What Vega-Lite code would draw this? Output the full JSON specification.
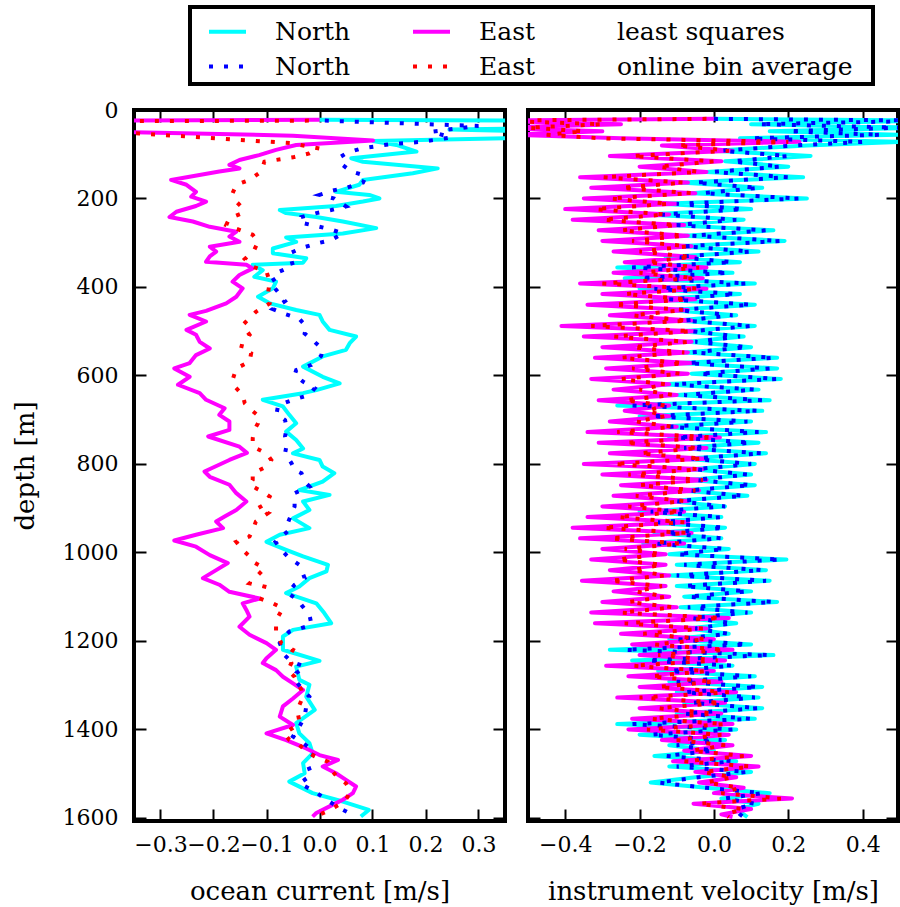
{
  "$schema": "https://vega.github.io/schema/vega-lite/v6.json",
  "background": "white",
  "padding": {"left": 10, "top": 5, "right": 1, "bottom": 2},
  "spacing": 23,
  "bounds": "flush",
  "config": {
    "font": "DejaVu Serif",
    "view": {"stroke": "black", "strokeWidth": 4},
    "axis": {"domain": false, "grid": false, "tickColor": "black", "tickWidth": 2, "tickSize": -12, "labelColor": "black", "labelFont": "DejaVu Serif", "labelFontSize": 22, "titleFont": "DejaVu Serif", "titleFontSize": 26, "titleFontWeight": "normal", "titleColor": "black", "labelFlush": false, "labelOverlap": false, "minExtent": 0}
  },
  "hconcat": [
    {
      "width": 371,
      "height": 711,
      "data": {"values": [
        {"s":"NL","d":22,"v":0},{"s":"NL","d":25,"v":0.6},{"s":"NL","d":40,"v":0.5},{"s":"NL","d":44,"v":0.245},{"s":"NL","d":50,"v":0.45},{"s":"NL","d":60,"v":0.5},{"s":"NL","d":70,"v":0.101},{"s":"NL","d":79,"v":0.145},{"s":"NL","d":94,"v":0.183},{"s":"NL","d":109,"v":0.06},{"s":"NL","d":117,"v":0.082},{"s":"NL","d":132,"v":0.223},{"s":"NL","d":143,"v":0.176},{"s":"NL","d":158,"v":0.082},{"s":"NL","d":169,"v":0.075},{"s":"NL","d":185,"v":0.031},{"s":"NL","d":192,"v":0.094},{"s":"NL","d":200,"v":0.113},{"s":"NL","d":207,"v":0.082},{"s":"NL","d":217,"v":0.031},{"s":"NL","d":226,"v":-0.075},{"s":"NL","d":233,"v":-0.063},{"s":"NL","d":242,"v":-0.006},{"s":"NL","d":252,"v":0.044},{"s":"NL","d":267,"v":0.107},{"s":"NL","d":279,"v":0.044},{"s":"NL","d":288,"v":-0.063},{"s":"NL","d":298,"v":-0.044},{"s":"NL","d":313,"v":-0.088},{"s":"NL","d":324,"v":-0.088},{"s":"NL","d":335,"v":-0.025},{"s":"NL","d":345,"v":-0.031},{"s":"NL","d":350,"v":-0.126},{"s":"NL","d":362,"v":-0.107},{"s":"NL","d":377,"v":-0.123},{"s":"NL","d":388,"v":-0.082},{"s":"NL","d":403,"v":-0.088},{"s":"NL","d":422,"v":-0.116},{"s":"NL","d":437,"v":-0.094},{"s":"NL","d":452,"v":-0.044},{"s":"NL","d":463,"v":0.0},{"s":"NL","d":478,"v":0.006},{"s":"NL","d":497,"v":0.019},{"s":"NL","d":512,"v":0.069},{"s":"NL","d":527,"v":0.057},{"s":"NL","d":542,"v":0.05},{"s":"NL","d":557,"v":0.006},{"s":"NL","d":580,"v":-0.031},{"s":"NL","d":603,"v":0.006},{"s":"NL","d":618,"v":0.038},{"s":"NL","d":633,"v":-0.006},{"s":"NL","d":640,"v":-0.031},{"s":"NL","d":655,"v":-0.107},{"s":"NL","d":670,"v":-0.069},{"s":"NL","d":689,"v":-0.057},{"s":"NL","d":708,"v":-0.044},{"s":"NL","d":727,"v":-0.063},{"s":"NL","d":746,"v":-0.044},{"s":"NL","d":765,"v":-0.031},{"s":"NL","d":776,"v":-0.05},{"s":"NL","d":791,"v":0.0},{"s":"NL","d":806,"v":0.006},{"s":"NL","d":821,"v":0.028},{"s":"NL","d":840,"v":0.006},{"s":"NL","d":859,"v":-0.038},{"s":"NL","d":870,"v":0.019},{"s":"NL","d":885,"v":-0.031},{"s":"NL","d":904,"v":-0.019},{"s":"NL","d":923,"v":-0.05},{"s":"NL","d":945,"v":-0.019},{"s":"NL","d":960,"v":-0.075},{"s":"NL","d":976,"v":-0.1},{"s":"NL","d":994,"v":-0.063},{"s":"NL","d":1009,"v":-0.031},{"s":"NL","d":1028,"v":0.016},{"s":"NL","d":1043,"v":0.013},{"s":"NL","d":1058,"v":-0.019},{"s":"NL","d":1077,"v":-0.038},{"s":"NL","d":1092,"v":-0.063},{"s":"NL","d":1115,"v":-0.006},{"s":"NL","d":1137,"v":0.009},{"s":"NL","d":1160,"v":0.022},{"s":"NL","d":1175,"v":-0.05},{"s":"NL","d":1190,"v":-0.069},{"s":"NL","d":1220,"v":-0.069},{"s":"NL","d":1245,"v":0.0},{"s":"NL","d":1258,"v":-0.044},{"s":"NL","d":1288,"v":-0.038},{"s":"NL","d":1299,"v":-0.019},{"s":"NL","d":1326,"v":-0.025},{"s":"NL","d":1356,"v":-0.009},{"s":"NL","d":1386,"v":-0.044},{"s":"NL","d":1409,"v":-0.038},{"s":"NL","d":1431,"v":-0.019},{"s":"NL","d":1454,"v":-0.013},{"s":"NL","d":1476,"v":-0.031},{"s":"NL","d":1499,"v":-0.028},{"s":"NL","d":1518,"v":-0.057},{"s":"NL","d":1544,"v":-0.013},{"s":"NL","d":1563,"v":0.044},{"s":"NL","d":1582,"v":0.093},{"s":"NL","d":1597,"v":0.078},
        {"s":"EL","d":22,"v":0},{"s":"EL","d":25,"v":-0.6},{"s":"EL","d":45,"v":-0.6},{"s":"EL","d":49,"v":-0.4},{"s":"EL","d":58,"v":-0.05},{"s":"EL","d":69,"v":0.101},{"s":"EL","d":79,"v":-0.044},{"s":"EL","d":90,"v":-0.082},{"s":"EL","d":102,"v":-0.114},{"s":"EL","d":113,"v":-0.151},{"s":"EL","d":124,"v":-0.17},{"s":"EL","d":132,"v":-0.151},{"s":"EL","d":139,"v":-0.189},{"s":"EL","d":158,"v":-0.28},{"s":"EL","d":169,"v":-0.251},{"s":"EL","d":185,"v":-0.233},{"s":"EL","d":196,"v":-0.242},{"s":"EL","d":207,"v":-0.214},{"s":"EL","d":217,"v":-0.233},{"s":"EL","d":230,"v":-0.27},{"s":"EL","d":242,"v":-0.283},{"s":"EL","d":252,"v":-0.239},{"s":"EL","d":264,"v":-0.207},{"s":"EL","d":275,"v":-0.157},{"s":"EL","d":286,"v":-0.17},{"s":"EL","d":298,"v":-0.151},{"s":"EL","d":309,"v":-0.207},{"s":"EL","d":320,"v":-0.195},{"s":"EL","d":331,"v":-0.207},{"s":"EL","d":343,"v":-0.214},{"s":"EL","d":350,"v":-0.138},{"s":"EL","d":358,"v":-0.126},{"s":"EL","d":373,"v":-0.151},{"s":"EL","d":388,"v":-0.164},{"s":"EL","d":403,"v":-0.145},{"s":"EL","d":422,"v":-0.157},{"s":"EL","d":437,"v":-0.176},{"s":"EL","d":454,"v":-0.214},{"s":"EL","d":463,"v":-0.245},{"s":"EL","d":478,"v":-0.214},{"s":"EL","d":497,"v":-0.251},{"s":"EL","d":508,"v":-0.233},{"s":"EL","d":524,"v":-0.226},{"s":"EL","d":539,"v":-0.207},{"s":"EL","d":554,"v":-0.233},{"s":"EL","d":572,"v":-0.245},{"s":"EL","d":584,"v":-0.274},{"s":"EL","d":603,"v":-0.245},{"s":"EL","d":621,"v":-0.267},{"s":"EL","d":640,"v":-0.226},{"s":"EL","d":655,"v":-0.214},{"s":"EL","d":674,"v":-0.179},{"s":"EL","d":689,"v":-0.189},{"s":"EL","d":704,"v":-0.17},{"s":"EL","d":723,"v":-0.17},{"s":"EL","d":738,"v":-0.21},{"s":"EL","d":761,"v":-0.151},{"s":"EL","d":775,"v":-0.137},{"s":"EL","d":791,"v":-0.17},{"s":"EL","d":817,"v":-0.217},{"s":"EL","d":829,"v":-0.207},{"s":"EL","d":847,"v":-0.17},{"s":"EL","d":866,"v":-0.157},{"s":"EL","d":885,"v":-0.138},{"s":"EL","d":904,"v":-0.157},{"s":"EL","d":919,"v":-0.179},{"s":"EL","d":930,"v":-0.195},{"s":"EL","d":945,"v":-0.182},{"s":"EL","d":960,"v":-0.233},{"s":"EL","d":973,"v":-0.274},{"s":"EL","d":987,"v":-0.233},{"s":"EL","d":1006,"v":-0.207},{"s":"EL","d":1024,"v":-0.173},{"s":"EL","d":1040,"v":-0.195},{"s":"EL","d":1058,"v":-0.22},{"s":"EL","d":1073,"v":-0.189},{"s":"EL","d":1089,"v":-0.17},{"s":"EL","d":1104,"v":-0.113},{"s":"EL","d":1115,"v":-0.145},{"s":"EL","d":1130,"v":-0.138},{"s":"EL","d":1145,"v":-0.132},{"s":"EL","d":1168,"v":-0.151},{"s":"EL","d":1186,"v":-0.132},{"s":"EL","d":1205,"v":-0.1},{"s":"EL","d":1220,"v":-0.082},{"s":"EL","d":1239,"v":-0.1},{"s":"EL","d":1250,"v":-0.107},{"s":"EL","d":1266,"v":-0.082},{"s":"EL","d":1281,"v":-0.069},{"s":"EL","d":1296,"v":-0.05},{"s":"EL","d":1311,"v":-0.031},{"s":"EL","d":1330,"v":-0.05},{"s":"EL","d":1348,"v":-0.069},{"s":"EL","d":1371,"v":-0.075},{"s":"EL","d":1390,"v":-0.05},{"s":"EL","d":1409,"v":-0.1},{"s":"EL","d":1424,"v":-0.063},{"s":"EL","d":1443,"v":-0.025},{"s":"EL","d":1458,"v":0.0},{"s":"EL","d":1469,"v":0.035},{"s":"EL","d":1484,"v":0.006},{"s":"EL","d":1499,"v":0.031},{"s":"EL","d":1514,"v":0.05},{"s":"EL","d":1529,"v":0.069},{"s":"EL","d":1544,"v":0.063},{"s":"EL","d":1559,"v":0.044},{"s":"EL","d":1574,"v":0.019},{"s":"EL","d":1589,"v":-0.006},{"s":"EL","d":1597,"v":-0.013},
        {"s":"NB","d":24,"v":0.01},{"s":"NB","d":36,"v":0.3},{"s":"NB","d":49,"v":0.211},{"s":"NB","d":62,"v":0.248},{"s":"NB","d":72,"v":0.192},{"s":"NB","d":77,"v":0.135},{"s":"NB","d":87,"v":0.079},{"s":"NB","d":96,"v":0.053},{"s":"NB","d":107,"v":0.038},{"s":"NB","d":122,"v":0.041},{"s":"NB","d":139,"v":0.06},{"s":"NB","d":149,"v":0.088},{"s":"NB","d":164,"v":0.082},{"s":"NB","d":175,"v":0.053},{"s":"NB","d":182,"v":0.025},{"s":"NB","d":192,"v":0.0},{"s":"NB","d":200,"v":0.028},{"s":"NB","d":218,"v":0.05},{"s":"NB","d":226,"v":0.022},{"s":"NB","d":233,"v":-0.006},{"s":"NB","d":242,"v":-0.035},{"s":"NB","d":254,"v":-0.038},{"s":"NB","d":261,"v":-0.01},{"s":"NB","d":269,"v":0.019},{"s":"NB","d":279,"v":0.044},{"s":"NB","d":294,"v":0.022},{"s":"NB","d":301,"v":-0.003},{"s":"NB","d":311,"v":-0.031},{"s":"NB","d":324,"v":-0.057},{"s":"NB","d":352,"v":-0.05},{"s":"NB","d":365,"v":-0.075},{"s":"NB","d":373,"v":-0.072},{"s":"NB","d":389,"v":-0.094},{"s":"NB","d":412,"v":-0.078},{"s":"NB","d":432,"v":-0.065},{"s":"NB","d":450,"v":-0.088},{"s":"NB","d":462,"v":-0.063},{"s":"NB","d":472,"v":-0.038},{"s":"NB","d":490,"v":-0.025},{"s":"NB","d":505,"v":-0.028},{"s":"NB","d":520,"v":-0.013},{"s":"NB","d":541,"v":0.006},{"s":"NB","d":556,"v":0.003},{"s":"NB","d":576,"v":-0.015},{"s":"NB","d":588,"v":-0.044},{"s":"NB","d":599,"v":-0.047},{"s":"NB","d":614,"v":-0.031},{"s":"NB","d":629,"v":-0.009},{"s":"NB","d":644,"v":-0.019},{"s":"NB","d":655,"v":-0.05},{"s":"NB","d":667,"v":-0.078},{"s":"NB","d":687,"v":-0.081},{"s":"NB","d":701,"v":-0.065},{"s":"NB","d":719,"v":-0.062},{"s":"NB","d":738,"v":-0.065},{"s":"NB","d":757,"v":-0.062},{"s":"NB","d":776,"v":-0.065},{"s":"NB","d":798,"v":-0.053},{"s":"NB","d":814,"v":-0.047},{"s":"NB","d":821,"v":-0.034},{"s":"NB","d":840,"v":-0.028},{"s":"NB","d":851,"v":-0.019},{"s":"NB","d":866,"v":-0.047},{"s":"NB","d":896,"v":-0.047},{"s":"NB","d":934,"v":-0.06},{"s":"NB","d":949,"v":-0.057},{"s":"NB","d":976,"v":-0.083},{"s":"NB","d":994,"v":-0.072},{"s":"NB","d":1013,"v":-0.057},{"s":"NB","d":1028,"v":-0.038},{"s":"NB","d":1058,"v":-0.028},{"s":"NB","d":1073,"v":-0.047},{"s":"NB","d":1092,"v":-0.06},{"s":"NB","d":1107,"v":-0.041},{"s":"NB","d":1119,"v":-0.034},{"s":"NB","d":1141,"v":-0.019},{"s":"NB","d":1164,"v":-0.015},{"s":"NB","d":1179,"v":-0.057},{"s":"NB","d":1190,"v":-0.066},{"s":"NB","d":1205,"v":-0.075},{"s":"NB","d":1232,"v":-0.066},{"s":"NB","d":1247,"v":-0.053},{"s":"NB","d":1258,"v":-0.028},{"s":"NB","d":1273,"v":-0.044},{"s":"NB","d":1288,"v":-0.047},{"s":"NB","d":1311,"v":-0.031},{"s":"NB","d":1326,"v":-0.019},{"s":"NB","d":1348,"v":-0.025},{"s":"NB","d":1371,"v":-0.028},{"s":"NB","d":1394,"v":-0.038},{"s":"NB","d":1416,"v":-0.05},{"s":"NB","d":1431,"v":-0.031},{"s":"NB","d":1450,"v":-0.009},{"s":"NB","d":1480,"v":-0.022},{"s":"NB","d":1503,"v":-0.015},{"s":"NB","d":1522,"v":-0.038},{"s":"NB","d":1540,"v":-0.009},{"s":"NB","d":1559,"v":0.013},{"s":"NB","d":1578,"v":0.038},{"s":"NB","d":1597,"v":0.069},
        {"s":"EB","d":24,"v":-0.02},{"s":"EB","d":26,"v":-0.6},{"s":"EB","d":44,"v":-0.6},{"s":"EB","d":53,"v":-0.34},{"s":"EB","d":75,"v":-0.053},{"s":"EB","d":87,"v":0.0},{"s":"EB","d":98,"v":-0.019},{"s":"EB","d":107,"v":-0.05},{"s":"EB","d":117,"v":-0.104},{"s":"EB","d":139,"v":-0.11},{"s":"EB","d":158,"v":-0.132},{"s":"EB","d":169,"v":-0.157},{"s":"EB","d":188,"v":-0.164},{"s":"EB","d":207,"v":-0.157},{"s":"EB","d":218,"v":-0.148},{"s":"EB","d":233,"v":-0.145},{"s":"EB","d":245,"v":-0.17},{"s":"EB","d":260,"v":-0.176},{"s":"EB","d":271,"v":-0.151},{"s":"EB","d":282,"v":-0.126},{"s":"EB","d":298,"v":-0.116},{"s":"EB","d":316,"v":-0.123},{"s":"EB","d":337,"v":-0.141},{"s":"EB","d":354,"v":-0.126},{"s":"EB","d":365,"v":-0.1},{"s":"EB","d":388,"v":-0.094},{"s":"EB","d":414,"v":-0.097},{"s":"EB","d":437,"v":-0.094},{"s":"EB","d":456,"v":-0.12},{"s":"EB","d":467,"v":-0.129},{"s":"EB","d":486,"v":-0.145},{"s":"EB","d":508,"v":-0.132},{"s":"EB","d":524,"v":-0.145},{"s":"EB","d":539,"v":-0.148},{"s":"EB","d":550,"v":-0.129},{"s":"EB","d":569,"v":-0.132},{"s":"EB","d":584,"v":-0.157},{"s":"EB","d":595,"v":-0.16},{"s":"EB","d":610,"v":-0.164},{"s":"EB","d":625,"v":-0.16},{"s":"EB","d":644,"v":-0.145},{"s":"EB","d":663,"v":-0.141},{"s":"EB","d":678,"v":-0.129},{"s":"EB","d":693,"v":-0.113},{"s":"EB","d":708,"v":-0.116},{"s":"EB","d":723,"v":-0.123},{"s":"EB","d":742,"v":-0.126},{"s":"EB","d":761,"v":-0.126},{"s":"EB","d":776,"v":-0.1},{"s":"EB","d":791,"v":-0.091},{"s":"EB","d":806,"v":-0.1},{"s":"EB","d":821,"v":-0.126},{"s":"EB","d":836,"v":-0.126},{"s":"EB","d":847,"v":-0.132},{"s":"EB","d":863,"v":-0.107},{"s":"EB","d":874,"v":-0.094},{"s":"EB","d":889,"v":-0.1},{"s":"EB","d":900,"v":-0.116},{"s":"EB","d":911,"v":-0.097},{"s":"EB","d":930,"v":-0.12},{"s":"EB","d":949,"v":-0.126},{"s":"EB","d":964,"v":-0.132},{"s":"EB","d":976,"v":-0.157},{"s":"EB","d":994,"v":-0.145},{"s":"EB","d":1009,"v":-0.132},{"s":"EB","d":1021,"v":-0.126},{"s":"EB","d":1036,"v":-0.104},{"s":"EB","d":1051,"v":-0.116},{"s":"EB","d":1070,"v":-0.132},{"s":"EB","d":1077,"v":-0.104},{"s":"EB","d":1092,"v":-0.107},{"s":"EB","d":1104,"v":-0.113},{"s":"EB","d":1115,"v":-0.088},{"s":"EB","d":1126,"v":-0.069},{"s":"EB","d":1145,"v":-0.078},{"s":"EB","d":1164,"v":-0.082},{"s":"EB","d":1179,"v":-0.082},{"s":"EB","d":1190,"v":-0.078},{"s":"EB","d":1205,"v":-0.072},{"s":"EB","d":1220,"v":-0.05},{"s":"EB","d":1235,"v":-0.057},{"s":"EB","d":1250,"v":-0.053},{"s":"EB","d":1266,"v":-0.06},{"s":"EB","d":1281,"v":-0.047},{"s":"EB","d":1296,"v":-0.041},{"s":"EB","d":1311,"v":-0.034},{"s":"EB","d":1326,"v":-0.031},{"s":"EB","d":1345,"v":-0.038},{"s":"EB","d":1363,"v":-0.041},{"s":"EB","d":1382,"v":-0.038},{"s":"EB","d":1394,"v":-0.047},{"s":"EB","d":1409,"v":-0.066},{"s":"EB","d":1424,"v":-0.057},{"s":"EB","d":1435,"v":-0.038},{"s":"EB","d":1446,"v":-0.028},{"s":"EB","d":1461,"v":-0.009},{"s":"EB","d":1473,"v":0.016},{"s":"EB","d":1484,"v":0.022},{"s":"EB","d":1495,"v":0.025},{"s":"EB","d":1510,"v":0.035},{"s":"EB","d":1522,"v":0.05},{"s":"EB","d":1537,"v":0.057},{"s":"EB","d":1552,"v":0.053},{"s":"EB","d":1563,"v":0.047},{"s":"EB","d":1574,"v":0.031},{"s":"EB","d":1586,"v":0.013},{"s":"EB","d":1597,"v":-0.009}
      ]},
      "layer": [
        {
          "transform": [{"filter": "datum.s == 'NL' || datum.s == 'EL'"}],
          "mark": {"type": "line", "clip": true, "strokeWidth": 4, "strokeJoin": "round"},
          "encoding": {
            "x": {"field": "v", "type": "quantitative", "scale": {"domain": [-0.35, 0.35], "nice": false, "zero": false},
                  "axis": {"orient": "bottom", "values": [-0.3, -0.2, -0.1, 0, 0.1, 0.2, 0.3], "format": ".1f", "labelPadding": 25, "title": "ocean current [m/s]", "titleY": 78, "titleBaseline": "alphabetic"}},
            "y": {"field": "d", "type": "quantitative", "scale": {"domain": [0, 1607], "reverse": true, "nice": false, "zero": false},
                  "axis": {"orient": "left", "values": [0, 200, 400, 600, 800, 1000, 1200, 1400, 1600], "format": "d", "labelPadding": 28, "title": "depth [m]", "titleX": -101, "titleBaseline": "alphabetic"}},
            "color": {"field": "s", "type": "nominal",
                      "scale": {"domain": ["NL", "EL", "LS", "NB", "EB", "BIN"], "range": ["#00ffff", "#ff00ff", "transparent", "#0000ff", "#ff0000", "transparent"]},
                      "legend": {"orient": "none", "legendX": 56, "legendY": -103, "direction": "horizontal", "columns": 3, "title": null, "symbolType": "stroke", "symbolSize": 1369, "symbolStrokeWidth": 4, "labelFont": "DejaVu Serif", "labelFontSize": 25, "labelLimit": 500, "labelColor": "black", "strokeColor": "black", "fillColor": "white", "padding": 4, "columnPadding": -2, "rowPadding": 1, "labelOffset": 27, "symbolOffset": 13,
                                 "labelExpr": "datum.value == 'NL' || datum.value == 'NB' ? 'North\u00a0\u00a0\u00a0\u00a0\u00a0\u00a0\u200b' : datum.value == 'EL' || datum.value == 'EB' ? 'East' : datum.value == 'LS' ? 'least squares' : 'online bin average\u00a0\u00a0\u200b'",
                                 "encode": {"legend": {"update": {"strokeWidth": {"value": 4}}}, "symbols": {"update": {"strokeDash": {"signal": "datum.value == 'NB' || datum.value == 'EB' ? [4, 11] : [1, 0]"}}}}}},
            "order": {"field": "d", "type": "quantitative"}
          }
        },
        {
          "transform": [{"filter": "datum.s == 'NB' || datum.s == 'EB'"}],
          "mark": {"type": "line", "clip": true, "strokeWidth": 4, "strokeCap": "butt", "strokeDash": [4, 11]},
          "encoding": {
            "x": {"field": "v", "type": "quantitative", "axis": null},
            "y": {"field": "d", "type": "quantitative", "axis": null},
            "color": {"field": "s", "type": "nominal"},
            "order": {"field": "d", "type": "quantitative"}
          }
        },
        {
          "transform": [{"filter": "false"}],
          "mark": {"type": "point"},
          "encoding": {
            "x": {"field": "v", "type": "quantitative", "axis": {"orient": "top", "values": [-0.3, -0.2, -0.1, 0, 0.1, 0.2, 0.3], "labels": false, "title": null}},
            "y": {"field": "d", "type": "quantitative", "axis": {"orient": "right", "values": [0, 200, 400, 600, 800, 1000, 1200, 1400, 1600], "labels": false, "title": null}}
          }
        }
      ],
      "resolve": {"axis": {"x": "independent", "y": "independent"}}
    },
    {
      "width": 370,
      "height": 711,
      "data": {"values": [
        {"d":20,"EL":0,"NL":0,"EB":-0.02,"NB":0},
        {"d":24,"EL":-0.6,"NL":0.6,"EB":-0.6,"NB":0.6},
        {"d":32,"EL":-0.25,"NL":0.1,"EB":-0.3,"NB":0.12},
        {"d":40,"EL":-0.6,"NL":0.55,"EB":-0.5,"NB":0.5},
        {"d":48,"EL":-0.3,"NL":0.15,"EB":-0.35,"NB":0.2},
        {"d":56,"EL":-0.55,"NL":0.5,"EB":-0.45,"NB":0.45},
        {"d":64,"EL":-0.25,"NL":0.07,"EB":-0.3,"NB":0.1},
        {"d":72,"EL":0.23,"NL":0.5,"EB":0.2,"NB":0.4},
        {"d":80,"EL":-0.14,"NL":0.25,"EB":-0.1,"NB":0.22},
        {"d":92,"EL":0.05,"NL":0.0,"EB":0.04,"NB":0.02},
        {"d":104,"EL":-0.28,"NL":0.26,"EB":-0.22,"NB":0.2},
        {"d":116,"EL":0.02,"NL":0.03,"EB":0.0,"NB":0.05},
        {"d":128,"EL":-0.2,"NL":0.2,"EB":-0.15,"NB":0.18},
        {"d":140,"EL":-0.02,"NL":-0.02,"EB":-0.04,"NB":0.0},
        {"d":152,"EL":-0.36,"NL":0.24,"EB":-0.3,"NB":0.2},
        {"d":164,"EL":-0.07,"NL":-0.09,"EB":-0.08,"NB":-0.05},
        {"d":176,"EL":-0.33,"NL":0.13,"EB":-0.25,"NB":0.12},
        {"d":188,"EL":-0.05,"NL":-0.06,"EB":-0.06,"NB":-0.03},
        {"d":200,"EL":-0.35,"NL":0.25,"EB":-0.28,"NB":0.23},
        {"d":212,"EL":-0.1,"NL":-0.14,"EB":-0.12,"NB":-0.1},
        {"d":224,"EL":-0.4,"NL":0.1,"EB":-0.32,"NB":0.08},
        {"d":236,"EL":-0.12,"NL":-0.18,"EB":-0.13,"NB":-0.14},
        {"d":248,"EL":-0.38,"NL":0.08,"EB":-0.3,"NB":0.06},
        {"d":260,"EL":-0.08,"NL":-0.12,"EB":-0.1,"NB":-0.1},
        {"d":272,"EL":-0.31,"NL":0.16,"EB":-0.25,"NB":0.14},
        {"d":284,"EL":-0.07,"NL":-0.08,"EB":-0.08,"NB":-0.06},
        {"d":296,"EL":-0.3,"NL":0.19,"EB":-0.22,"NB":0.18},
        {"d":308,"EL":-0.06,"NL":-0.1,"EB":-0.07,"NB":-0.08},
        {"d":320,"EL":-0.27,"NL":0.12,"EB":-0.2,"NB":0.1},
        {"d":332,"EL":-0.05,"NL":-0.13,"EB":-0.06,"NB":-0.1},
        {"d":344,"EL":-0.24,"NL":0.07,"EB":-0.18,"NB":0.05},
        {"d":356,"EL":-0.02,"NL":-0.26,"EB":-0.04,"NB":-0.22},
        {"d":368,"EL":-0.27,"NL":0.05,"EB":-0.2,"NB":0.04},
        {"d":380,"EL":-0.03,"NL":-0.24,"EB":-0.05,"NB":-0.2},
        {"d":392,"EL":-0.36,"NL":0.11,"EB":-0.3,"NB":0.09},
        {"d":404,"EL":-0.02,"NL":-0.2,"EB":-0.04,"NB":-0.16},
        {"d":416,"EL":-0.3,"NL":0.07,"EB":-0.24,"NB":0.06},
        {"d":428,"EL":-0.05,"NL":-0.16,"EB":-0.07,"NB":-0.12},
        {"d":440,"EL":-0.34,"NL":0.11,"EB":-0.27,"NB":0.1},
        {"d":452,"EL":-0.07,"NL":-0.12,"EB":-0.08,"NB":-0.1},
        {"d":464,"EL":-0.28,"NL":0.06,"EB":-0.22,"NB":0.05},
        {"d":476,"EL":-0.06,"NL":-0.1,"EB":-0.07,"NB":-0.08},
        {"d":488,"EL":-0.41,"NL":0.11,"EB":-0.33,"NB":0.1},
        {"d":500,"EL":-0.05,"NL":-0.09,"EB":-0.06,"NB":-0.06},
        {"d":512,"EL":-0.35,"NL":0.08,"EB":-0.27,"NB":0.07},
        {"d":524,"EL":-0.06,"NL":-0.07,"EB":-0.07,"NB":-0.05},
        {"d":536,"EL":-0.3,"NL":0.1,"EB":-0.22,"NB":0.09},
        {"d":548,"EL":-0.07,"NL":-0.08,"EB":-0.08,"NB":-0.06},
        {"d":560,"EL":-0.32,"NL":0.17,"EB":-0.25,"NB":0.16},
        {"d":572,"EL":-0.06,"NL":-0.09,"EB":-0.08,"NB":-0.07},
        {"d":584,"EL":-0.29,"NL":0.17,"EB":-0.22,"NB":0.15},
        {"d":596,"EL":-0.07,"NL":-0.06,"EB":-0.09,"NB":-0.04},
        {"d":608,"EL":-0.33,"NL":0.18,"EB":-0.25,"NB":0.17},
        {"d":620,"EL":-0.12,"NL":-0.14,"EB":-0.13,"NB":-0.11},
        {"d":632,"EL":-0.27,"NL":0.12,"EB":-0.2,"NB":0.11},
        {"d":644,"EL":-0.1,"NL":-0.1,"EB":-0.11,"NB":-0.08},
        {"d":656,"EL":-0.31,"NL":0.15,"EB":-0.24,"NB":0.13},
        {"d":668,"EL":-0.12,"NL":-0.26,"EB":-0.13,"NB":-0.22},
        {"d":680,"EL":-0.24,"NL":0.13,"EB":-0.18,"NB":0.12},
        {"d":692,"EL":-0.12,"NL":-0.2,"EB":-0.13,"NB":-0.17},
        {"d":704,"EL":-0.28,"NL":0.1,"EB":-0.21,"NB":0.09},
        {"d":716,"EL":-0.1,"NL":-0.15,"EB":-0.11,"NB":-0.12},
        {"d":728,"EL":-0.34,"NL":0.14,"EB":-0.26,"NB":0.12},
        {"d":740,"EL":0.016,"NL":-0.12,"EB":0.0,"NB":-0.1},
        {"d":752,"EL":-0.31,"NL":0.12,"EB":-0.24,"NB":0.1},
        {"d":764,"EL":-0.02,"NL":-0.1,"EB":-0.04,"NB":-0.08},
        {"d":776,"EL":-0.28,"NL":0.14,"EB":-0.2,"NB":0.13},
        {"d":788,"EL":-0.02,"NL":-0.08,"EB":-0.03,"NB":-0.06},
        {"d":800,"EL":-0.35,"NL":0.11,"EB":-0.27,"NB":0.1},
        {"d":812,"EL":-0.03,"NL":-0.06,"EB":-0.04,"NB":-0.05},
        {"d":824,"EL":-0.3,"NL":0.1,"EB":-0.23,"NB":0.09},
        {"d":836,"EL":-0.02,"NL":-0.07,"EB":-0.03,"NB":-0.05},
        {"d":848,"EL":-0.25,"NL":0.11,"EB":-0.2,"NB":0.1},
        {"d":860,"EL":-0.04,"NL":-0.09,"EB":-0.05,"NB":-0.07},
        {"d":872,"EL":-0.27,"NL":0.09,"EB":-0.21,"NB":0.08},
        {"d":884,"EL":-0.07,"NL":-0.12,"EB":-0.08,"NB":-0.1},
        {"d":896,"EL":-0.3,"NL":0.03,"EB":-0.23,"NB":0.03},
        {"d":908,"EL":-0.08,"NL":-0.2,"EB":-0.09,"NB":-0.17},
        {"d":920,"EL":-0.34,"NL":0.02,"EB":-0.26,"NB":0.02},
        {"d":932,"EL":-0.07,"NL":-0.18,"EB":-0.08,"NB":-0.15},
        {"d":944,"EL":-0.38,"NL":0.03,"EB":-0.3,"NB":0.03},
        {"d":956,"EL":-0.06,"NL":-0.16,"EB":-0.07,"NB":-0.13},
        {"d":968,"EL":-0.36,"NL":0.02,"EB":-0.28,"NB":0.02},
        {"d":980,"EL":-0.08,"NL":-0.19,"EB":-0.09,"NB":-0.16},
        {"d":992,"EL":-0.3,"NL":0.04,"EB":-0.24,"NB":0.03},
        {"d":1004,"EL":-0.13,"NL":-0.12,"EB":-0.14,"NB":-0.1},
        {"d":1016,"EL":-0.33,"NL":0.195,"EB":-0.26,"NB":0.18},
        {"d":1028,"EL":-0.13,"NL":-0.1,"EB":-0.14,"NB":-0.08},
        {"d":1040,"EL":-0.28,"NL":0.14,"EB":-0.22,"NB":0.13},
        {"d":1052,"EL":-0.12,"NL":-0.12,"EB":-0.13,"NB":-0.1},
        {"d":1064,"EL":-0.355,"NL":0.15,"EB":-0.28,"NB":0.14},
        {"d":1076,"EL":-0.13,"NL":-0.1,"EB":-0.14,"NB":-0.08},
        {"d":1088,"EL":-0.27,"NL":0.1,"EB":-0.21,"NB":0.09},
        {"d":1100,"EL":-0.12,"NL":-0.08,"EB":-0.13,"NB":-0.07},
        {"d":1112,"EL":-0.3,"NL":0.17,"EB":-0.23,"NB":0.16},
        {"d":1124,"EL":-0.1,"NL":-0.09,"EB":-0.11,"NB":-0.07},
        {"d":1136,"EL":-0.33,"NL":0.1,"EB":-0.25,"NB":0.09},
        {"d":1148,"EL":0.04,"NL":-0.08,"EB":0.02,"NB":-0.06},
        {"d":1160,"EL":-0.32,"NL":0.06,"EB":-0.24,"NB":0.05},
        {"d":1172,"EL":-0.02,"NL":-0.07,"EB":-0.03,"NB":-0.05},
        {"d":1184,"EL":-0.25,"NL":0.04,"EB":-0.19,"NB":0.04},
        {"d":1196,"EL":0.0,"NL":-0.12,"EB":-0.02,"NB":-0.1},
        {"d":1208,"EL":-0.22,"NL":0.1,"EB":-0.16,"NB":0.09},
        {"d":1220,"EL":0.05,"NL":-0.28,"EB":0.03,"NB":-0.24},
        {"d":1232,"EL":-0.2,"NL":0.16,"EB":-0.15,"NB":0.15},
        {"d":1244,"EL":0.03,"NL":-0.22,"EB":0.01,"NB":-0.18},
        {"d":1256,"EL":-0.29,"NL":0.05,"EB":-0.22,"NB":0.05},
        {"d":1268,"EL":0.0,"NL":-0.15,"EB":-0.02,"NB":-0.12},
        {"d":1280,"EL":-0.23,"NL":0.11,"EB":-0.17,"NB":0.1},
        {"d":1292,"EL":0.02,"NL":-0.12,"EB":0.0,"NB":-0.1},
        {"d":1304,"EL":-0.2,"NL":0.13,"EB":-0.15,"NB":0.12},
        {"d":1316,"EL":0.06,"NL":-0.1,"EB":0.04,"NB":-0.08},
        {"d":1328,"EL":-0.26,"NL":0.12,"EB":-0.2,"NB":0.11},
        {"d":1340,"EL":0.03,"NL":-0.08,"EB":0.02,"NB":-0.06},
        {"d":1352,"EL":-0.2,"NL":0.13,"EB":-0.15,"NB":0.12},
        {"d":1364,"EL":0.02,"NL":-0.1,"EB":0.0,"NB":-0.08},
        {"d":1376,"EL":-0.22,"NL":0.11,"EB":-0.17,"NB":0.1},
        {"d":1388,"EL":0.05,"NL":-0.26,"EB":0.03,"NB":-0.22},
        {"d":1400,"EL":-0.23,"NL":0.06,"EB":-0.18,"NB":0.05},
        {"d":1412,"EL":0.04,"NL":-0.2,"EB":0.02,"NB":-0.17},
        {"d":1424,"EL":-0.14,"NL":0.03,"EB":-0.1,"NB":0.02},
        {"d":1436,"EL":0.05,"NL":-0.12,"EB":0.03,"NB":-0.1},
        {"d":1448,"EL":-0.08,"NL":0.0,"EB":-0.06,"NB":0.0},
        {"d":1460,"EL":0.1,"NL":-0.16,"EB":0.08,"NB":-0.13},
        {"d":1472,"EL":-0.11,"NL":0.06,"EB":-0.08,"NB":0.05},
        {"d":1484,"EL":0.12,"NL":-0.12,"EB":0.1,"NB":-0.1},
        {"d":1496,"EL":-0.05,"NL":0.1,"EB":-0.03,"NB":0.09},
        {"d":1508,"EL":0.06,"NL":-0.05,"EB":0.05,"NB":-0.04},
        {"d":1520,"EL":-0.04,"NL":-0.17,"EB":-0.02,"NB":-0.15},
        {"d":1532,"EL":0.08,"NL":-0.02,"EB":0.07,"NB":-0.02},
        {"d":1544,"EL":0.0,"NL":0.15,"EB":0.02,"NB":0.13},
        {"d":1556,"EL":0.21,"NL":0.02,"EB":0.18,"NB":0.03},
        {"d":1568,"EL":-0.055,"NL":0.12,"EB":-0.04,"NB":0.11},
        {"d":1580,"EL":0.1,"NL":0.06,"EB":0.08,"NB":0.06},
        {"d":1592,"EL":0.02,"NL":0.08,"EB":0.03,"NB":0.07},
        {"d":1598,"EL":0.05,"NL":0.09,"EB":0.04,"NB":0.08}
      ]},
      "transform": [{"fold": ["NL", "EL", "NB", "EB"], "as": ["s", "v"]}],
      "layer": [
        {
          "transform": [{"filter": "datum.s == 'NL' || datum.s == 'EL'"}],
          "mark": {"type": "line", "clip": true, "strokeWidth": 4, "strokeJoin": "round"},
          "encoding": {
            "x": {"field": "v", "type": "quantitative", "scale": {"domain": [-0.5, 0.495], "nice": false, "zero": false},
                  "axis": {"orient": "bottom", "values": [-0.4, -0.2, 0, 0.2, 0.4], "format": ".1f", "labelPadding": 25, "title": "instrument velocity [m/s]", "titleY": 78, "titleBaseline": "alphabetic"}},
            "y": {"field": "d", "type": "quantitative", "scale": {"domain": [0, 1607], "reverse": true, "nice": false, "zero": false},
                  "axis": {"orient": "left", "values": [0, 200, 400, 600, 800, 1000, 1200, 1400, 1600], "labels": false, "title": null}},
            "color": {"field": "s", "type": "nominal",
                      "scale": {"domain": ["NL", "EL", "LS", "NB", "EB", "BIN"], "range": ["#00ffff", "#ff00ff", "transparent", "#0000ff", "#ff0000", "transparent"]}},
            "order": {"field": "d", "type": "quantitative"}
          }
        },
        {
          "transform": [{"filter": "datum.s == 'NB' || datum.s == 'EB'"}],
          "mark": {"type": "line", "clip": true, "strokeWidth": 4, "strokeCap": "butt", "strokeDash": [4, 11]},
          "encoding": {
            "x": {"field": "v", "type": "quantitative", "axis": null},
            "y": {"field": "d", "type": "quantitative", "axis": null},
            "color": {"field": "s", "type": "nominal"},
            "order": {"field": "d", "type": "quantitative"}
          }
        },
        {
          "transform": [{"filter": "false"}],
          "mark": {"type": "point"},
          "encoding": {
            "x": {"field": "v", "type": "quantitative", "axis": {"orient": "top", "values": [-0.4, -0.2, 0, 0.2, 0.4], "labels": false, "title": null}},
            "y": {"field": "d", "type": "quantitative", "axis": {"orient": "right", "values": [0, 200, 400, 600, 800, 1000, 1200, 1400, 1600], "labels": false, "title": null}}
          }
        }
      ],
      "resolve": {"axis": {"x": "independent", "y": "independent"}}
    }
  ]
}
